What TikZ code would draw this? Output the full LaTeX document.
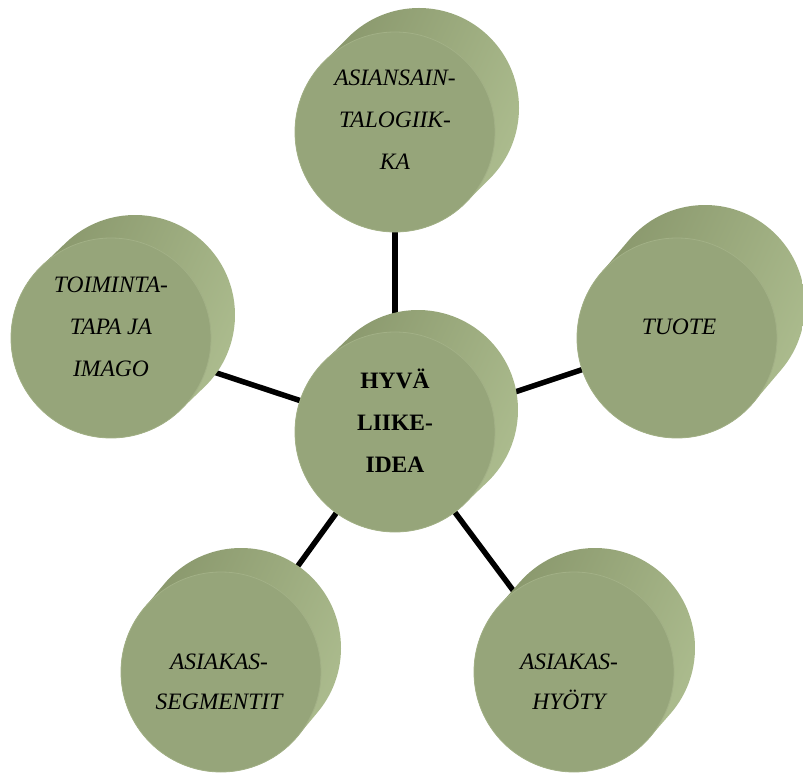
\documentclass[tikz,border=0pt]{standalone}
\usepackage{fontspec}
\setmainfont{Liberation Serif}
\usetikzlibrary{calc}
\definecolor{frontc}{HTML}{96A57A}
\definecolor{sidedark}{HTML}{75835A}
\definecolor{sidemid}{HTML}{869469}
\definecolor{sidelight}{HTML}{AEBE90}
\definecolor{rimc}{HTML}{A2B086}
\pgfdeclarelayer{bg}\pgfsetlayers{bg,main}
\tikzset{
  sideshade/.style={left color=sidemid, middle color=sidedark, right color=sidelight, shading angle=65},
  frontface/.style={circle, minimum size=200pt, inner sep=0pt, fill=frontc, draw=rimc, line width=0.8pt},
  lbl/.style={align=center, inner sep=0pt, font=\fontsize{23.5}{42}\selectfont\itshape},
  lbltwo/.style={lbl, font=\fontsize{23.5}{40}\selectfont\itshape},
  lblbold/.style={lbl, font=\fontsize{23.5}{42}\selectfont\bfseries},
  conn/.style={line width=5.5pt, black},
}
\newcommand\cylshape[5]{%
  \pgfmathsetmacro\cylang{atan2(#5,#4)}%
  \shade[sideshade] ($(#2,#3)+(#4,#5)+(\cylang+90:100pt)$)
     arc[start angle=\cylang+90, end angle=\cylang-90, radius=100pt]
     -- ($(#2,#3)+(\cylang-90:100pt)$)
     arc[start angle=\cylang-90, end angle=\cylang-270, radius=100pt] -- cycle;
  \node[frontface] (#1) at (#2,#3) {};
}
\begin{document}
\begin{tikzpicture}[x=1pt,y=1pt]
\useasboundingbox (0,0) rectangle (803,772);
\cylshape{a}{395}{640}{24}{24}
\cylshape{m}{395}{340}{23}{22}
\cylshape{l}{111}{434}{24}{23}
\cylshape{r}{677}{434}{28}{33}
\cylshape{bl}{221}{100}{20}{24}
\cylshape{br}{574}{100}{21}{24}
\node[lbl] (a-t) at (395,652) {ASIANSAIN-\\TALOGIIK-\\KA};
\node[lblbold] (m-t) at (395,351) {HYVÄ\\LIIKE-\\IDEA};
\node[lbl] (l-t) at (111,445) {TOIMINTA-\\TAPA JA\\IMAGO};
\node[lbl] (r-t) at (679,445) {TUOTE};
\node[lbltwo] (bl-t) at (219,90) {ASIAKAS-\\SEGMENTIT};
\node[lbltwo] (br-t) at (569,90) {ASIAKAS-\\HYÖTY};
\begin{pgfonlayer}{bg}
\foreach \n in {a,l,r,bl,br} \draw[conn] (m.center) -- (\n.center);
\end{pgfonlayer}
\end{tikzpicture}
\end{document}
